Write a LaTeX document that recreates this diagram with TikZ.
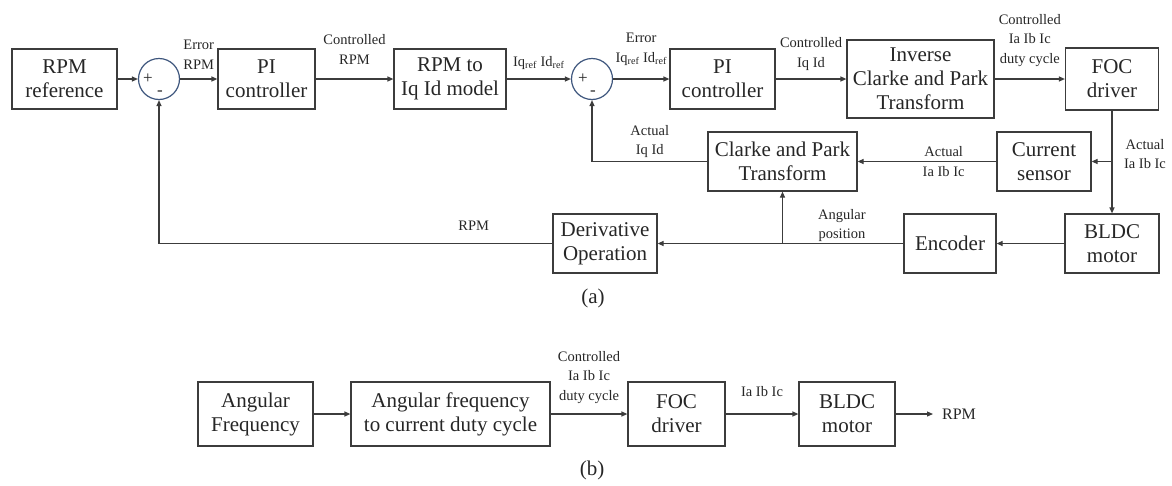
\documentclass[tikz,border=0pt]{standalone}
\usepackage{fontspec}
\setmainfont{Liberation Serif}
\usepackage{tikz}
\usetikzlibrary{arrows.meta, positioning}
\definecolor{sumblue}{RGB}{62,86,125}
\definecolor{wire}{RGB}{60,60,60}

\begin{document}
\begin{tikzpicture}[x=1pt, y=-1pt, line width=1.2pt,
    blk/.style={draw=wire, align=center, inner sep=0pt, text=black!85,
        font=\fontsize{21}{24}\selectfont},
    sum/.style={draw=sumblue, circle, minimum size=41pt, inner sep=0pt},
    sgn/.style={inner sep=0pt, text=black!85, font=\fontsize{17}{20}\selectfont},
    lbl/.style={align=center, inner sep=1pt, text=black!85,
        font=\fontsize{14.5}{19.5}\selectfont},
    sig/.style={color=wire, -{Triangle[length=6pt, width=5pt]}}]
    \useasboundingbox (0,0) rectangle (1172,485);

                \node (ref) [blk, minimum width=105pt, minimum height=60pt] at (64.5,79) {RPM\\reference};
                \node (sum1) [sum] at (159,79) {};
                \node (pi1) [blk, minimum width=97pt, minimum height=60pt] at (266.5,79) {PI\\controller};
                \node (model) [blk, minimum width=112pt, minimum height=60pt] at (450,79) {RPM to\\Iq Id model};
                \node (sum2) [sum] at (592,79) {};
                \node (pi2) [blk, minimum width=105pt, minimum height=60pt] at (722.5,79) {PI\\controller};
                \node (inv) [blk, minimum width=147pt, minimum height=78pt] at (920.5,79) {Inverse\\Clarke and Park\\Transform};
                \node (foc) [blk, minimum width=93pt, minimum height=62pt] at (1112,79) {FOC\\driver};
                \node (cur) [blk, minimum width=94pt, minimum height=59pt] at (1044,161.5) {Current\\sensor};
                \node (clk) [blk, minimum width=149pt, minimum height=59pt] at (782.5,161.5) {Clarke and Park\\Transform};
                \node (bldc) [blk, minimum width=94pt, minimum height=59pt] at (1112,243.5) {BLDC\\motor};
                \node (enc) [blk, minimum width=92pt, minimum height=59pt] at (950,243.5) {Encoder};
                \node (der) [blk, minimum width=104pt, minimum height=59pt] at (605,243.5) {Derivative\\Operation};

                \node (s1p) [sgn, xshift=-11pt] at (sum1) {+};
                \node (s1m) [sgn, xshift=1pt, yshift=-14pt] at (sum1) {-};
                \node (s2p) [sgn, xshift=-9pt] at (sum2) {+};
                \node (s2m) [sgn, xshift=1pt, yshift=-14pt] at (sum2) {-};

                \node (af) [blk, minimum width=115pt, minimum height=64pt] at (255.5,414) {Angular\\Frequency};
                \node (afc) [blk, minimum width=199pt, minimum height=64pt] at (450.5,414) {Angular frequency\\to current duty cycle};
                \node (foc2) [blk, minimum width=97pt, minimum height=64pt] at (676.5,414) {FOC\\driver};
                \node (bldc2) [blk, minimum width=96pt, minimum height=64pt] at (847,414) {BLDC\\motor};
                \coordinate (out) at (933,414);
                \node (rpmout) [lbl, font=\fontsize{16}{19}\selectfont] at (959,414) {RPM};

                \node (capa) [blk, draw=none] at (593,298) {(a)};
                \node (capb) [blk, draw=none] at (592,470) {(b)};

               \path[sig]
                (ref.east) edge (sum1.west)
                (sum1.east) edge node [lbl, above=8pt] {Error\\RPM} (pi1.west)
                (pi1.east) edge node [lbl, above=13pt] {Controlled\\RPM} (model.west)
                (model.east) edge node [lbl, above=8pt] {Iq\textsubscript{ref} Id\textsubscript{ref}} (sum2.west)
                (sum2.east) edge node [lbl, above=12pt] {Error\\Iq\textsubscript{ref} Id\textsubscript{ref}} (pi2.west)
                (pi2.east) edge node [lbl, above=7pt] {Controlled\\Iq Id} (inv.west)
                (inv.east) edge node [lbl, above=11pt] {Controlled\\Ia Ib Ic\\duty cycle} (foc.west)
                (foc.south) edge (bldc.north)
                (cur.west) edge node [lbl, pos=0.38] {Actual\\Ia Ib Ic} (clk.east)
                (bldc.west) edge (enc.east)
                (enc.west) edge node [lbl, above=0pt, pos=0.25] {Angular\\position} (der.east);

                \coordinate (tap1) at (foc.south |- cur.east);
                \coordinate (tap2) at (clk.south |- enc.west);
                \draw[sig] (tap1) -- (cur.east);
                \node (actabc) [lbl] at (1145,154) {Actual\\Ia Ib Ic};
                \draw[sig] (tap2) -- (clk.south);
                \draw[sig] (clk.west) -- node [lbl, above=2pt] {Actual\\Iq Id} (sum2 |- clk.west) -- (sum2.south);
                \draw[sig] (der.west) -- node [lbl, above=11.5pt, pos=0.2] {RPM} (sum1 |- der.west) -- (sum1.south);

               \path[sig]
                (af.east) edge (afc.west)
                (afc.east) edge node [lbl, above=9pt] {Controlled\\Ia Ib Ic\\duty cycle} (foc2.west)
                (foc2.east) edge node [lbl, above=16pt] {Ia Ib Ic} (bldc2.west)
                (bldc2.east) edge (out);
\end{tikzpicture}
\end{document}
